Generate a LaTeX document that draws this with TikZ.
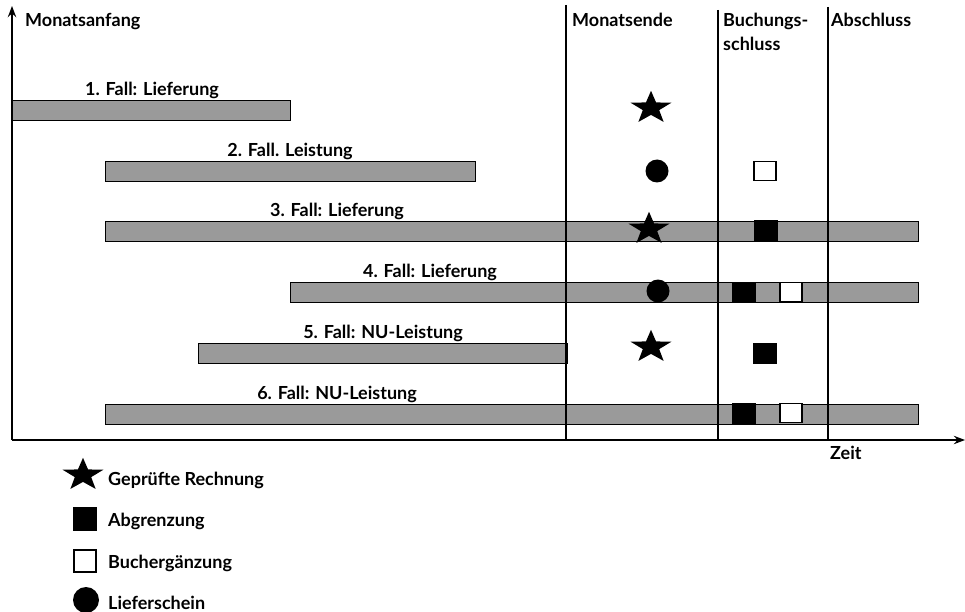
\documentclass[tikz,border=0pt]{standalone}
\usepackage{fontspec}
\setmainfont{Lato}
\usetikzlibrary{shapes.geometric,arrows.meta,positioning}
\tikzset{>=Stealth}
\definecolor{BarGray}{HTML}{9A9A9A}

\begin{document}
\begin{tikzpicture}[x=1pt,y=-1pt]
  \tikzset{
    bar/.style={rectangle, draw=black, line width=0.9pt, fill=BarGray,
      minimum height=20pt, inner sep=0pt, anchor=west},
    lbl/.style={font=\fontsize{18}{22}\selectfont\bfseries, inner sep=1.5pt, anchor=south},
    head/.style={font=\fontsize{18}{24}\selectfont\bfseries, inner sep=0pt,
      anchor=north west, align=left},
    legtxt/.style={font=\fontsize{18}{22}\selectfont\bfseries, inner sep=0pt, anchor=base west},
    pruef/.style={star, star points=5, star point ratio=2.5, fill=black,
      minimum size=43pt, inner sep=0pt, yscale=0.8, transform shape},
    abgr/.style={rectangle, fill=black, minimum width=24pt, minimum height=21pt, inner sep=0pt},
    ergz/.style={rectangle, fill=white, draw=black, line width=1.4pt,
      minimum width=22pt, minimum height=19pt, inner sep=0pt},
    liefs/.style={circle, fill=black, minimum size=23pt, inner sep=0pt},
    axis/.style={line width=1.8pt}
  }
  \useasboundingbox (0,0) rectangle (965,612);

  % Faelle
  \foreach \n/\xa/\xb/\y/\lx/\txt in {1/12/290/110/152/{1. Fall: Lieferung},
      2/105/475/171/290/{2. Fall. Leistung}, 3/105/918/231/337/{3. Fall: Lieferung},
      4/290/918/292/430/{4. Fall: Lieferung}, 5/198/567/353/383/{5. Fall: NU-Leistung},
      6/105/918/414/337/{6. Fall: NU-Leistung}}{
    \node[bar, minimum width={(\xb-\xa)*1pt}] (bar\n) at (\xa,\y) {};
    \node[lbl] (lbl\n) at (\lx,\y-10) {\txt};
  }

  % Achsen und Stichtage
  \coordinate (O) at (12,440);
  \coordinate (ytop) at (12,6);
  \coordinate (xend) at (965,440);
  \draw[axis,->] (O) -- (ytop);
  \draw[axis,->] (O) -- (xend);
  \foreach \m/\x/\yt in {ende/566/5, buch/718/10, absch/828/7}{
    \coordinate (\m-t) at (\x,\yt);
    \coordinate (\m-b) at (\x,440);
    \draw[axis] (\m-t) -- (\m-b);
  }

  \node[head] (anfang) at (25,13) {Monatsanfang};
  \node[head] (mende) at (572,13) {Monatsende};
  \node[head] (bschluss) at (723,13) {Buchungs-\\schluss};
  \node[head] (abschluss) at (831,13) {Abschluss};
  \node[head] (zeit) at (830,446) {Zeit};

  % Belege
  \node[pruef] (s1) at (651,108) {};
  \node[liefs] (c2) at (657,171) {};
  \node[ergz] (e2) at (765,171) {};
  \node[pruef] (s3) at (649,229) {};
  \node[abgr] (a3) at (766,231) {};
  \node[liefs] (c4) at (658,291) {};
  \node[abgr] (a4) at (744,292) {};
  \node[ergz] (e4) at (791,292) {};
  \node[pruef] (s5) at (651,347) {};
  \node[abgr] (a5) at (765,353) {};
  \node[abgr] (a6) at (744,413) {};
  \node[ergz] (e6) at (791,413) {};

  % Legende
  \node[pruef] (lg1) at (83,475) {};
  \node[abgr, minimum width=24pt, minimum height=24pt] (lg2) at (85,519) {};
  \node[ergz, minimum width=22pt, minimum height=22pt] (lg3) at (85,561) {};
  \node[liefs, minimum size=26pt] (lg4) at (86,600) {};
  \node[legtxt] (lt1) at (108,485) {Geprüfte Rechnung};
  \node[legtxt] (lt2) at (108,526) {Abgrenzung};
  \node[legtxt] (lt3) at (108,568) {Buchergänzung};
  \node[legtxt] (lt4) at (108,609) {Lieferschein};
\end{tikzpicture}
\end{document}
